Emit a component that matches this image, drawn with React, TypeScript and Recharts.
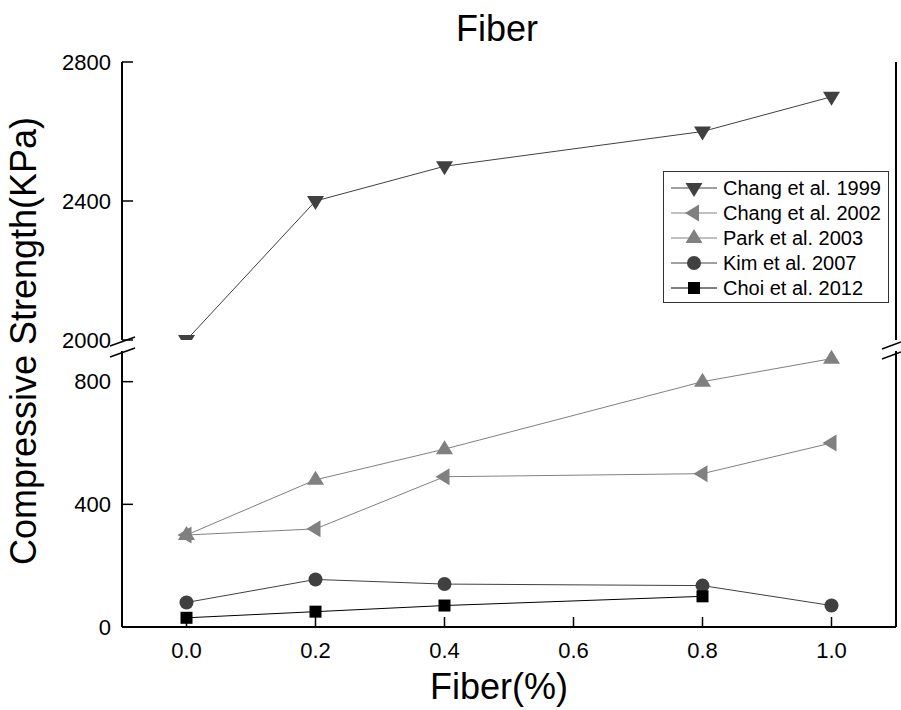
import React from 'react';
import { LineChart, Line, XAxis, YAxis, Legend } from 'recharts';

// ---- data ----
const fiber = [0, 0.2, 0.4, 0.8, 1.0];
const chang1999 = [2000, 2400, 2500, 2600, 2700];
const chang2002 = [300, 320, 490, 500, 600];
const park2003 = [300, 480, 580, 800, 875];
const kim2007 = [80, 155, 140, 135, 70];
const choi2012: (number | null)[] = [30, 50, 70, 100, null];

const xMajorTicks = [0, 0.2, 0.4, 0.6, 0.8, 1.0];
const xMinorTicks = [0.1, 0.3, 0.5, 0.7, 0.9];
const xTopTicks = [0, 0.1, 0.2, 0.3, 0.4, 0.5, 0.6, 0.7, 0.8, 0.9, 1.0];
const upperMajorTicks = [2000, 2400, 2800];
const upperMinorTicks = [2200, 2600];
const upperRightTicks = [2200, 2400, 2600];
const lowerMajorTicks = [0, 400, 800];
const lowerMinorTicks = [200, 600];
const lowerRightTicks = [200, 400, 600, 800];

const xDomain = [-0.1, 1.1];
const upperDomain = [2000, 2800];
const lowerDomain = [0, 900];

type MarkerType = 'down' | 'left' | 'up' | 'circle' | 'square';

const series: { key: string; name: string; color: string; marker: MarkerType }[] = [
  { key: 'chang1999', name: 'Chang et al. 1999', color: '#404040', marker: 'down' },
  { key: 'chang2002', name: 'Chang et al. 2002', color: '#808080', marker: 'left' },
  { key: 'park2003', name: 'Park et al. 2003', color: '#808080', marker: 'up' },
  { key: 'kim2007', name: 'Kim et al. 2007', color: '#404040', marker: 'circle' },
  { key: 'choi2012', name: 'Choi et al. 2012', color: '#000000', marker: 'square' },
];

const data = fiber.map((x, i) => ({
  x,
  chang1999: chang1999[i],
  chang2002: chang2002[i],
  park2003: park2003[i],
  kim2007: kim2007[i],
  choi2012: choi2012[i],
}));

const FONT = "'Liberation Sans', Arial, sans-serif";

function MarkerShape({ type, cx, cy, fill }: { type: MarkerType; cx: number; cy: number; fill: string }) {
  switch (type) {
    case 'down':
      return <polygon points={`${cx - 8.5},${cy - 5} ${cx + 8.5},${cy - 5} ${cx},${cy + 9}`} fill={fill} />;
    case 'up':
      return <polygon points={`${cx - 8.5},${cy + 5} ${cx + 8.5},${cy + 5} ${cx},${cy - 9}`} fill={fill} />;
    case 'left':
      return <polygon points={`${cx - 9},${cy} ${cx + 5},${cy - 8.5} ${cx + 5},${cy + 8.5}`} fill={fill} />;
    case 'circle':
      return <circle cx={cx} cy={cy} r={7} fill={fill} />;
    case 'square':
    default:
      return <rect x={cx - 6} y={cy - 6} width={12} height={12} fill={fill} />;
  }
}

const makeDot = (type: MarkerType, fill: string) => (props: any) => {
  const { cx, cy, index, value } = props;
  if (typeof cx !== 'number' || typeof cy !== 'number' || value == null || Number.isNaN(cy)) {
    return <g key={`e-${index}`} />;
  }
  return (
    <g key={`d-${index}`}>
      <MarkerShape type={type} cx={cx} cy={cy} fill={fill} />
    </g>
  );
};

const LegendBox = () => (
  <svg width={226} height={132} style={{ display: 'block' }}>
    <rect x={0.5} y={0.5} width={225} height={131} fill="#fff" stroke="#333" strokeWidth={1} />
    {series.map((s, i) => {
      const y = 17 + i * 25;
      return (
        <g key={s.key}>
          <line x1={8} x2={54} y1={y} y2={y} stroke={s.color} strokeWidth={1} />
          <MarkerShape type={s.marker} cx={31} cy={y} fill={s.color} />
          <text x={60} y={y + 7} fontSize={20} fill="#000" fontFamily={FONT}>
            {s.name}
          </text>
        </g>
      );
    })}
  </svg>
);

const tickStyle = { fontSize: 22, fill: '#000', fontFamily: FONT };
const axisLine = { stroke: '#000', strokeWidth: 2 };
const tickLine = { stroke: '#000', strokeWidth: 1.5 };

export default function App() {
  const upperSeries = series.filter((s) => s.key === 'chang1999');
  const lowerSeries = series.filter((s) => s.key !== 'chang1999');
  return (
    <div
      style={{
        position: 'absolute',
        left: 0,
        top: 0,
        width: 901,
        height: 710,
        background: '#fff',
        fontFamily: FONT,
      }}
    >
      {/* lower section */}
      <div style={{ position: 'absolute', left: 0, top: 0 }}>
        <LineChart width={901} height={710} data={data} margin={{ top: 351, right: 5, bottom: 0, left: 0 }}>
          <XAxis
            xAxisId="B"
            type="number"
            dataKey="x"
            domain={xDomain}
            ticks={xMajorTicks}
            tickFormatter={(v: number) => v.toFixed(1)}
            tick={tickStyle}
            tickSize={-10}
            tickMargin={25}
            height={83}
            axisLine={axisLine}
            tickLine={tickLine}
            label={{ value: 'Fiber(%)', position: 'insideBottom', offset: 11, fontSize: 36, fill: '#000', dx: -10 }}
          />
          <XAxis
            xAxisId="Bm"
            type="number"
            dataKey="x"
            domain={xDomain}
            ticks={xMinorTicks}
            mirror
            tick={false}
            tickSize={5}
            axisLine={false}
            tickLine={tickLine}
          />
          <YAxis
            yAxisId="L"
            type="number"
            domain={lowerDomain}
            ticks={lowerMajorTicks}
            tick={tickStyle}
            tickSize={-11}
            tickMargin={22}
            width={122}
            axisLine={axisLine}
            tickLine={tickLine}
          />
          <YAxis
            yAxisId="Lm"
            type="number"
            domain={lowerDomain}
            ticks={lowerMinorTicks}
            mirror
            tick={false}
            tickSize={7}
            axisLine={false}
            tickLine={tickLine}
          />
          <YAxis
            yAxisId="R"
            orientation="right"
            type="number"
            domain={lowerDomain}
            ticks={lowerRightTicks}
            mirror
            tick={false}
            tickSize={5}
            axisLine={axisLine}
            tickLine={tickLine}
          />
          {lowerSeries.map((s) => (
            <Line
              key={s.key}
              xAxisId="B"
              yAxisId="L"
              type="linear"
              dataKey={s.key}
              name={s.name}
              stroke={s.color}
              strokeWidth={1}
              dot={makeDot(s.marker, s.color)}
              activeDot={false}
              isAnimationActive={false}
            />
          ))}
        </LineChart>
      </div>

      {/* upper section */}
      <div style={{ position: 'absolute', left: 0, top: 0, width: 901, height: 360 }}>
        <LineChart width={901} height={360} data={data} margin={{ top: 62, right: 5, bottom: 20, left: 0 }}>
          <XAxis
            xAxisId="T"
            orientation="top"
            type="number"
            dataKey="x"
            domain={xDomain}
            ticks={xTopTicks}
            mirror
            tick={false}
            tickSize={2}
            height={0}
            axisLine={axisLine}
            tickLine={{ stroke: '#999', strokeWidth: 1 }}
          />
          <YAxis
            yAxisId="L"
            type="number"
            domain={upperDomain}
            allowDataOverflow
            ticks={upperMajorTicks}
            tick={tickStyle}
            tickSize={-11}
            tickMargin={22}
            width={122}
            axisLine={axisLine}
            tickLine={tickLine}
          />
          <YAxis
            yAxisId="Lm"
            type="number"
            domain={upperDomain}
            ticks={upperMinorTicks}
            mirror
            tick={false}
            tickSize={7}
            axisLine={false}
            tickLine={tickLine}
          />
          <YAxis
            yAxisId="R"
            orientation="right"
            type="number"
            domain={upperDomain}
            ticks={upperRightTicks}
            mirror
            tick={false}
            tickSize={5}
            axisLine={axisLine}
            tickLine={tickLine}
          />
          {upperSeries.map((s) => (
            <Line
              key={s.key}
              xAxisId="T"
              yAxisId="L"
              type="linear"
              dataKey={s.key}
              name={s.name}
              stroke={s.color}
              strokeWidth={1}
              dot={makeDot(s.marker, s.color)}
              activeDot={false}
              isAnimationActive={false}
            />
          ))}
          <Legend
            layout="vertical"
            align="center"
            verticalAlign="middle"
            content={() => <LegendBox />}
            wrapperStyle={{ left: 663, top: 171, width: 226, height: 132 }}
          />
        </LineChart>
      </div>

      {/* title, y-axis title and axis-break marks */}
      <svg
        width={901}
        height={710}
        style={{ position: 'absolute', left: 0, top: 0, pointerEvents: 'none' }}
      >
        <text x={497} y={41} textAnchor="middle" fontSize={36} fill="#000" fontFamily={FONT}>
          Fiber
        </text>
        <text
          transform="translate(36,341) rotate(-90)"
          textAnchor="middle"
          fontSize={36}
          fill="#000"
          fontFamily={FONT}
        >
          Compressive Strength(KPa)
        </text>
        <g stroke="#000" strokeWidth={1.5}>
          <line x1={110} y1={346} x2={135} y2={337} />
          <line x1={110} y1={357} x2={135} y2={348} />
          <line x1={882} y1={349} x2={901} y2={342} />
          <line x1={882} y1={359} x2={901} y2={352} />
        </g>
      </svg>
    </div>
  );
}
